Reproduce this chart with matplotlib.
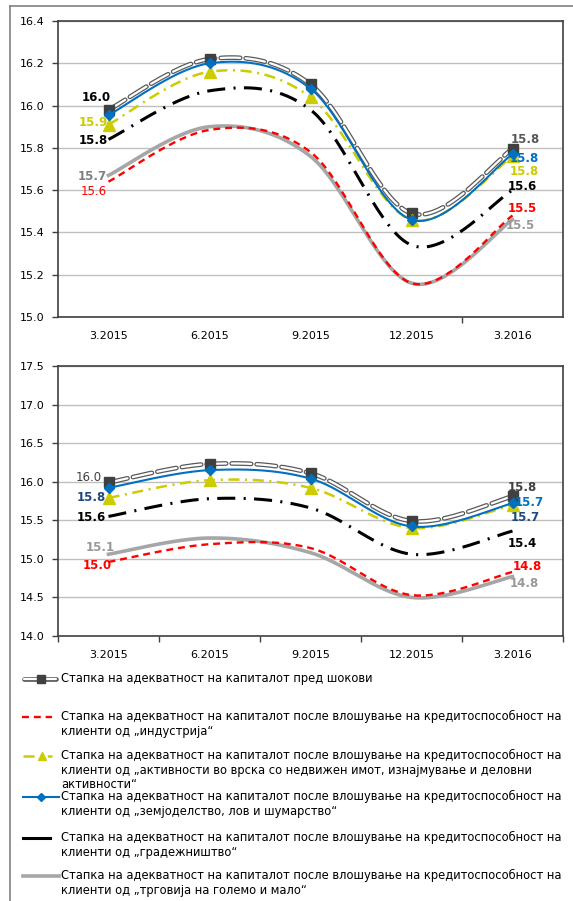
import numpy as np
import matplotlib
matplotlib.use("Agg")
import matplotlib.pyplot as plt
from matplotlib.lines import Line2D

plt.rcParams['font.family'] = ['DejaVu Sans']
plt.rcParams['lines.scale_dashes'] = False

categories = ["3.2015", "6.2015", "9.2015", "12.2015", "3.2016"]

# Top chart
top_pre = [15.98, 16.22, 16.10, 15.49, 15.795]
top_ind = [15.64, 15.885, 15.78, 15.16, 15.48]
top_re = [15.91, 16.16, 16.04, 15.46, 15.76]
top_agr = [15.955, 16.20, 16.08, 15.46, 15.77]
top_con = [15.84, 16.07, 15.98, 15.34, 15.60]
top_trd = [15.67, 15.90, 15.76, 15.16, 15.46]

# Bottom chart
bot_pre = [15.99, 16.23, 16.11, 15.49, 15.81]
bot_ind = [14.96, 15.19, 15.14, 14.53, 14.83]
bot_re = [15.79, 16.02, 15.92, 15.40, 15.70]
bot_agr = [15.92, 16.15, 16.04, 15.42, 15.72]
bot_con = [15.55, 15.78, 15.66, 15.06, 15.36]
bot_trd = [15.06, 15.27, 15.08, 14.50, 14.77]

top_ylim = (15.0, 16.4)
top_yticks = [15.0, 15.2, 15.4, 15.6, 15.8, 16.0, 16.2, 16.4]
bot_ylim = (14.0, 17.5)
bot_yticks = [14.0, 14.5, 15.0, 15.5, 16.0, 16.5, 17.0, 17.5]

legend_labels = [
    "Стапка на адекватност на капиталот пред шокови",
    "Стапка на адекватност на капиталот после влошување на кредитоспособност на\nклиенти од „индустрија“",
    "Стапка на адекватност на капиталот после влошување на кредитоспособност на\nклиенти од „активности во врска со недвижен имот, изнајмување и деловни\nактивности“",
    "Стапка на адекватност на капиталот после влошување на кредитоспособност на\nклиенти од „земјоделство, лов и шумарство“",
    "Стапка на адекватност на капиталот после влошување на кредитоспособност на\nклиенти од „градежништво“",
    "Стапка на адекватност на капиталот после влошување на кредитоспособност на\nклиенти од „трговија на големо и мало“",
]

C_PRE = '#595959'
C_MK = '#404040'
C_RED = '#FF0000'
C_YEL = '#CCCC00'
C_BLU = '#0070C0'
C_BLK = '#000000'
C_GRY = '#A6A6A6'
C_NAVY = '#1F497D'


def smooth(y):
    x = np.arange(len(y), dtype=float)
    y = np.asarray(y, dtype=float)
    P = np.column_stack([x, y])
    n = len(P)
    out = []
    t = np.linspace(0, 1, 40)
    for i in range(n - 1):
        p0 = P[i - 1] if i > 0 else P[i]
        p1 = P[i]
        p2 = P[i + 1]
        p3 = P[i + 2] if i + 2 < n else P[i + 1]
        c1 = p1 + (p2 - p0) / 6.0
        c2 = p2 - (p3 - p1) / 6.0
        seg = ((1 - t) ** 3)[:, None] * p1 + (3 * (1 - t) ** 2 * t)[:, None] * c1 \
            + (3 * (1 - t) * t ** 2)[:, None] * c2 + (t ** 3)[:, None] * p2
        out.append(seg if i == 0 else seg[1:])
    s = np.vstack(out)
    return s[:, 0], s[:, 1]


def draw(ax, pre, ind, re, agr, con, trd):
    x = np.arange(len(categories))
    sx, sy = smooth(pre)
    ax.plot(sx, sy, color=C_PRE, lw=3.4, dashes=(14, 4), dash_capstyle='round', zorder=3)
    ax.plot(sx, sy, color='white', lw=1.6, dashes=(14, 4), dash_capstyle='round', zorder=3.1)
    ax.plot(x, pre, ls='none', marker='s', ms=7, color=C_MK, zorder=3.2)
    sx, sy = smooth(trd)
    ax.plot(sx, sy, color=C_GRY, lw=2.6, zorder=4)
    sx, sy = smooth(ind)
    ax.plot(sx, sy, color=C_RED, lw=1.7, dashes=(5, 3.5), zorder=4.5)
    sx, sy = smooth(re)
    ax.plot(sx, sy, color=C_YEL, lw=1.8, dashes=(8, 4, 1.5, 4), zorder=5)
    ax.plot(x, re, ls='none', marker='^', ms=8, color=C_YEL, zorder=5.1)
    sx, sy = smooth(con)
    ax.plot(sx, sy, color=C_BLK, lw=2.2, dashes=(13, 6, 1.5, 6), zorder=5.5)
    sx, sy = smooth(agr)
    ax.plot(sx, sy, color=C_BLU, lw=1.5, zorder=6)
    ax.plot(x, agr, ls='none', marker='D', ms=5, color=C_BLU, zorder=6.1)


def style(ax, ylim, yticks, xtick_bounds):
    ax.set_xlim(-0.5, len(categories) - 0.5)
    ax.set_ylim(*ylim)
    ax.set_yticks(yticks)
    ax.set_yticklabels([f"{v:.1f}" for v in yticks], fontsize=8, color='#000000')
    ax.set_xticks(np.arange(len(categories)))
    ax.set_xticklabels(categories, fontsize=8)
    ax.tick_params(axis='x', which='major', length=0, pad=10)
    ax.set_xticks(xtick_bounds, minor=True)
    ax.tick_params(axis='x', which='minor', length=4, width=1, color='#404040', direction='out')
    ax.tick_params(axis='y', length=4, width=1, color='#404040', pad=6)
    ax.grid(axis='y', color='#BFBFBF', lw=1)
    ax.set_axisbelow(True)
    for s in ax.spines.values():
        s.set_color('#404040')
        s.set_linewidth(1.2)


def label(ax, i, v, dx, dy, text, color, bold=True):
    ax.annotate(text, xy=(i, v), xytext=(dx, dy), textcoords='offset pixels',
                ha='center', va='center', fontsize=8.5, color=color,
                fontweight='bold' if bold else 'normal', zorder=10)


fig = plt.figure(figsize=(5.73, 9.01), dpi=100)

# outer frame lines
fig.add_artist(Line2D([10 / 573, 10 / 573], [0, 1 - 6 / 901], color='#808080', lw=1.2,
                      transform=fig.transFigure))
fig.add_artist(Line2D([10 / 573, 1], [1 - 6 / 901, 1 - 6 / 901], color='#808080', lw=1.2,
                      transform=fig.transFigure))

ax1 = fig.add_axes([58 / 573, 1 - 317 / 901, 505 / 573, 296 / 901])
draw(ax1, top_pre, top_ind, top_re, top_agr, top_con, top_trd)
style(ax1, top_ylim, top_yticks, [3.5])

label(ax1, 0, top_pre[0], -12, 12, f"{top_pre[0]:.1f}", '#000000')
label(ax1, 0, top_re[0], -15, 2, f"{top_re[0]:.1f}", C_YEL)
label(ax1, 0, top_con[0], -15, -1, f"{top_con[0]:.1f}", '#000000')
label(ax1, 0, top_trd[0], -16, -1, f"{top_trd[0]:.1f}", '#808080')
label(ax1, 0, top_ind[0], -15, -10, f"{top_ind[0]:.1f}", C_RED, bold=False)
label(ax1, 4, top_pre[4], 13, 9, f"{top_pre[4]:.1f}", '#595959')
label(ax1, 4, top_agr[4], 12, -4, f"{top_agr[4]:.1f}", C_BLU)
label(ax1, 4, top_re[4], 12, -15, f"{top_re[4]:.1f}", C_YEL)
label(ax1, 4, top_con[4], 10, 4, f"{top_con[4]:.1f}", '#000000')
label(ax1, 4, top_ind[4], 10, 7, f"{top_ind[4]:.1f}", C_RED)
label(ax1, 4, top_trd[4], 8, -6, f"{top_trd[4]:.1f}", '#999999')

ax2 = fig.add_axes([58 / 573, 1 - 636 / 901, 505 / 573, 270 / 901])
draw(ax2, bot_pre, bot_ind, bot_re, bot_agr, bot_con, bot_trd)
style(ax2, bot_ylim, bot_yticks, [-0.5, 0.5, 1.5, 2.5, 3.5, 4.5])

label(ax2, 0, bot_pre[0], -20, 5, f"{bot_pre[0]:.1f}", '#404040', bold=False)
label(ax2, 0, bot_re[0], -17, 0, f"{bot_re[0]:.1f}", C_NAVY)
label(ax2, 0, bot_con[0], -17, -1, f"{bot_con[0]:.1f}", '#000000')
label(ax2, 0, bot_trd[0], -8, 7, f"{bot_trd[0]:.1f}", '#999999')
label(ax2, 0, bot_ind[0], -11, -4, f"{bot_ind[0]:.1f}", C_RED)
label(ax2, 4, bot_pre[4], 10, 9, f"{bot_pre[4]:.1f}", '#404040')
label(ax2, 4, bot_agr[4], 17, 1, f"{bot_agr[4]:.1f}", C_BLU)
label(ax2, 4, bot_re[4], 13, -13, f"{bot_re[4]:.1f}", C_NAVY)
label(ax2, 4, bot_con[4], 10, -12, f"{bot_con[4]:.1f}", '#000000')
label(ax2, 4, bot_ind[4], 15, 5, f"{bot_ind[4]:.1f}", C_RED)
label(ax2, 4, bot_trd[4], 12, -7, f"{bot_trd[4]:.1f}", '#999999')

# legend (manual)
H = 901.0
W = 573.0
leg_y = [679, 717, 756, 797, 838, 876]


def fx(px):
    return px / W


def fy(py):
    return 1 - py / H


def fig_line(xs, ys, **kw):
    fig.add_artist(Line2D([fx(v) for v in xs], [fy(v) for v in ys], transform=fig.transFigure, **kw))


y = leg_y[0]
fig_line([24, 56], [y, y], color=C_PRE, lw=3.4, solid_capstyle='round')
fig_line([24, 56], [y, y], color='white', lw=1.6, solid_capstyle='round')
fig_line([41], [y], ls='none', marker='s', ms=6, color=C_MK)
y = leg_y[1]
fig_line([22, 52], [y, y], color=C_RED, lw=1.7, dashes=(5, 3.5))
y = leg_y[2]
fig_line([23, 52], [y, y], color=C_YEL, lw=1.8, dashes=(8, 4, 1.5, 4))
fig_line([42], [y], ls='none', marker='^', ms=6, color=C_YEL)
y = leg_y[3]
fig_line([23, 59], [y, y], color=C_BLU, lw=1.5)
fig_line([41], [y], ls='none', marker='D', ms=4, color=C_BLU)
y = leg_y[4]
fig_line([23, 50], [y, y], color=C_BLK, lw=2.2)
y = leg_y[5]
fig_line([23, 59], [y, y], color=C_GRY, lw=2.6)

for yy, txt in zip(leg_y, legend_labels):
    fig.text(fx(61), fy(yy - 7), txt, fontsize=8.3, va='top', ha='left', linespacing=1.16,
             transform=fig.transFigure)

fig.savefig("out.png", dpi=100)
